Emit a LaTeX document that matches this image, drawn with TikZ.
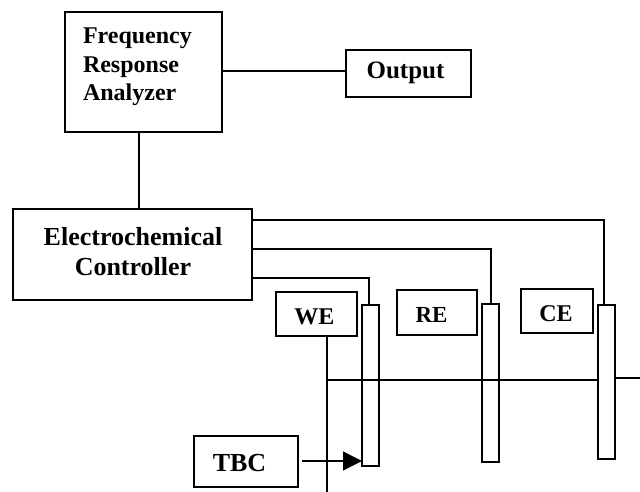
\documentclass[tikz,border=0pt]{standalone}
\usepackage{fontspec}
\setmainfont{Liberation Serif}
\usetikzlibrary{arrows.meta}
\tikzset{
  boxn/.style={draw=black,fill=white,line width=1.5pt,inner sep=0pt,outer sep=0pt,minimum width=#1},
  txt/.style={font=\bfseries\fontsize{24}{28.5}\selectfont,inner sep=0pt,outer sep=0pt},
  bigtxt/.style={font=\bfseries\fontsize{26}{30}\selectfont,inner sep=0pt,outer sep=0pt},
  barn/.style={draw=black,line width=1.5pt,inner sep=0pt,outer sep=0pt,minimum width=17pt},
  wire/.style={draw=black,line width=1.4pt}
}
\begin{document}
\begin{tikzpicture}[x=1pt,y=-1pt]
\useasboundingbox[fill=white] (0,0) rectangle (640,492);
% boxes
\node[boxn=157pt,minimum height=120pt] (fra) at (143.5,72) {};
\node[txt,align=left,anchor=west] (fratxt) at (83,67) {Frequency\\Response\\Analyzer};
\node[boxn=125pt,minimum height=47pt] (out) at (408.5,73.5) {};
\node[bigtxt,font=\bfseries\fontsize{25}{30}\selectfont] (outtxt) at (405.5,73) {Output};
\node[boxn=239pt,minimum height=91pt] (ec) at (132.5,254.5) {};
\node[bigtxt,align=center] (ectxt) at (133,251.5) {Electrochemical\\Controller};
\node[boxn=81pt,minimum height=44pt] (we) at (316.5,314) {};
\node[txt] (wetxt) at (314.5,316.5) {WE};
\node[boxn=80pt,minimum height=45pt] (re) at (437,312.5) {};
\node[txt,font=\bfseries\fontsize{23}{28}\selectfont] (retxt) at (431.5,315) {RE};
\node[boxn=72pt,minimum height=44pt] (ce) at (557,311) {};
\node[txt] (cetxt) at (556,314) {CE};
\node[boxn=104pt,minimum height=51pt] (tbc) at (246,461.5) {};
\node[bigtxt] (tbctxt) at (239.5,463) {TBC};
% electrodes
\node[barn,minimum height=161pt] (webar) at (370.5,385.5) {};
\node[barn,minimum height=158pt] (rebar) at (490.5,383) {};
\node[barn,minimum height=154pt] (cebar) at (606.5,382) {};
% free ends
\coordinate (ecA) at (252,220);
\coordinate (ecB) at (252,249);
\coordinate (ecC) at (252,278);
\coordinate (junc) at (327,380);
\coordinate (wireend) at (640,378);
\coordinate (weend) at (327,492);
\coordinate (tbcout) at (302,461);
% connectors
\draw[wire] (fra.east |- 0,71) -- (out.west |- 0,71);
\draw[wire] (139,132) -- (139,209);
\draw[wire] (ecA) -| ([xshift=-2.5pt]cebar.north);
\draw[wire] (ecB) -| ([xshift=.5pt]rebar.north);
\draw[wire] (ecC) -| ([xshift=-1.5pt]webar.north);
\draw[wire] (we.south -| junc) -- (weend);
\draw[wire] (junc) -- (cebar.west |- junc);
\draw[wire] (cebar.east |- wireend) -- (wireend);
\draw[wire,-{Triangle[length=19pt,width=19pt]}] (tbcout) -- (webar.west |- tbcout);
\end{tikzpicture}
\end{document}
